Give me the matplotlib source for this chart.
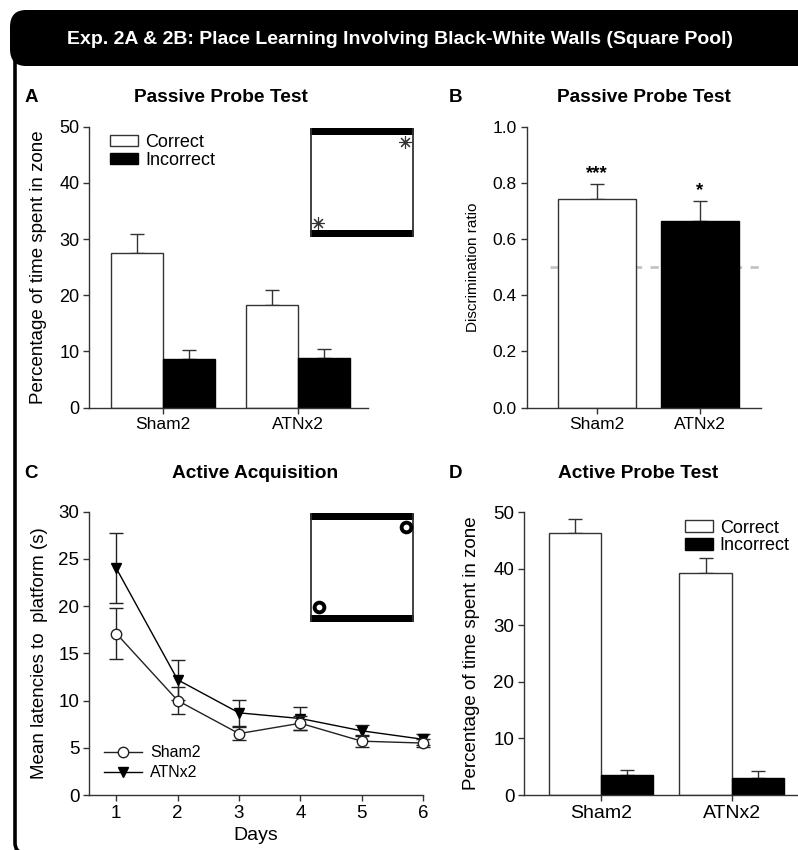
import numpy as np
import matplotlib
matplotlib.use('Agg')
import matplotlib.pyplot as plt
from matplotlib.patches import FancyBboxPatch, Rectangle, Patch
from matplotlib.lines import Line2D

plt.rcParams['font.family'] = ['Liberation Sans', 'DejaVu Sans']

# ---- data ----
groups = ['Sham2', 'ATNx2']
# A: passive probe, % time in zone
a_correct = [27.5, 18.3]
a_correct_err = [3.4, 2.7]
a_incorrect = [8.7, 8.9]
a_incorrect_err = [1.6, 1.6]
# B: discrimination ratio
b_ratio = [0.743, 0.665]
b_err = [0.052, 0.070]
b_sig = ['***', '*']
# C: active acquisition latencies
days = [1, 2, 3, 4, 5, 6]
sham_lat = [17.1, 10.0, 6.5, 7.6, 5.7, 5.5]
sham_err = [2.65, 1.4, 0.65, 0.75, 0.65, 0.45]
atn_lat = [24.0, 12.2, 8.7, 8.1, 6.8, 5.9]
atn_err = [3.7, 2.1, 1.35, 1.2, 0.6, 0.6]
# D: active probe, % time in zone
d_correct = [46.3, 39.2]
d_correct_err = [2.5, 2.8]
d_incorrect = [3.5, 3.0]
d_incorrect_err = [1.0, 1.3]

W, H = 798, 850
fig = plt.figure(figsize=(W / 100, H / 100), dpi=100)

def ax_px(l, t, r, b):
    return fig.add_axes([l / W, 1 - b / H, (r - l) / W, (b - t) / H])

def fx(x):
    return x / W

def fy(y):
    return 1 - y / H

# frame and header
frame = FancyBboxPatch((fx(15), fy(853)), fx(900), (853 - 40) / H,
                       boxstyle='round,pad=0,rounding_size=0.012',
                       transform=fig.transFigure, fc='none', ec='black', lw=2.6)
fig.patches.append(frame)
header = FancyBboxPatch((fx(10), fy(66)), fx(900), (66 - 10) / H,
                        boxstyle='round,pad=0,rounding_size=0.02',
                        transform=fig.transFigure, fc='black', ec='black', lw=0)
fig.patches.append(header)
fig.text(fx(400), fy(40), 'Exp. 2A & 2B: Place Learning Involving Black-White Walls (Square Pool)',
         color='white', fontsize=14, fontweight='bold', ha='center', va='center',
         family=['Liberation Sans Narrow', 'Liberation Sans'])

def style(ax, fs):
    for s in ['top', 'right']:
        ax.spines[s].set_visible(False)
    for s in ['left', 'bottom']:
        ax.spines[s].set_color('#333333')
        ax.spines[s].set_linewidth(1)
    ax.tick_params(direction='out', length=4, width=1, color='#333333', labelsize=fs, pad=3)

ekw = dict(ecolor='#333333', elinewidth=1, capsize=5, capthick=1)

def grouped(ax, corr, corr_err, inc, inc_err, w):
    x = np.arange(len(groups))
    ax.bar(x - w / 2, corr, w, color='white', edgecolor='#333333', lw=1, zorder=2)
    ax.bar(x + w / 2, inc, w, color='black', edgecolor='black', lw=1, zorder=2)
    ax.errorbar(x - w / 2, corr, yerr=[np.zeros(2), corr_err], fmt='none', zorder=1, **ekw)
    ax.errorbar(x + w / 2, inc, yerr=[np.zeros(2), inc_err], fmt='none', zorder=1, **ekw)
    ax.set_xticks(x)

def box_legend(ax, loc, anchor, fs):
    ax.legend(handles=[Patch(fc='white', ec='#333333', lw=1, label='Correct'),
                       Patch(fc='black', ec='black', label='Incorrect')],
              loc=loc, bbox_to_anchor=anchor, frameon=False, fontsize=fs,
              handlelength=1.55, handleheight=0.6, handletextpad=0.4, labelspacing=0.05,
              borderaxespad=0)

def inset_box(l, t, r, b):
    ins = ax_px(l, t, r, b)
    ins.set_xlim(0, 1); ins.set_ylim(0, 1); ins.axis('off')
    ins.add_patch(Rectangle((0.0, 0.0), 1.0, 0.065, fc='black', ec='none'))
    ins.add_patch(Rectangle((0.0, 0.935), 1.0, 0.065, fc='black', ec='none'))
    ins.plot([0.006, 0.006], [0, 1], color='#333333', lw=1.3)
    ins.plot([0.994, 0.994], [0, 1], color='#333333', lw=1.3)
    return ins

# ---- A ----
axA = ax_px(89, 126.7, 368, 407.7)
grouped(axA, a_correct, a_correct_err, a_incorrect, a_incorrect_err, 0.383)
axA.set_xlim(-0.548, 1.52)
axA.set_ylim(0, 50)
axA.set_yticks([0, 10, 20, 30, 40, 50])
style(axA, 13)
axA.set_xticklabels(groups, fontsize=12.5)
axA.set_ylabel('Percentage of time spent in zone', fontsize=13.5)
axA.yaxis.set_label_coords(-0.15, 0.5)
box_legend(axA, 'upper left', (0.05, 1.0), 13)
fig.text(fx(31), fy(97), 'A', fontsize=13.5, fontweight='bold', ha='center', va='center')
fig.text(fx(221), fy(97), 'Passive Probe Test', fontsize=13.8, fontweight='bold', ha='center', va='center')

insA = inset_box(310, 128, 414, 237)
insA.plot([0.08, 0.915], [0.13, 0.87], ls='none', marker=(8, 2, 0), ms=9, mew=0.8, color='#333333')

# ---- B ----
axB = ax_px(526.7, 126.7, 761, 407.7)
xb = np.arange(len(groups))
axB.axhline(0.5, xmin=0.1, xmax=1, color='#c4c4c4', lw=2, ls=(0, (3, 3)), zorder=0)
axB.bar(xb, b_ratio, 0.758, color=['white', 'black'], edgecolor=['#333333', 'black'], lw=1, zorder=2)
axB.errorbar(xb, b_ratio, yerr=[np.zeros(2), b_err], fmt='none', zorder=1, **ekw)
for xi, v, e, s in zip(xb, b_ratio, b_err, b_sig):
    axB.text(xi, v + e + 0.008, s, ha='center', va='bottom', fontsize=13.5, fontweight='bold')
axB.set_xlim(-0.678, 1.59)
axB.set_ylim(0, 1)
axB.set_yticks([0, 0.2, 0.4, 0.6, 0.8, 1.0])
axB.set_yticklabels(['0.0', '0.2', '0.4', '0.6', '0.8', '1.0'])
axB.set_xticks(xb)
style(axB, 12.5)
axB.set_xticklabels(groups, fontsize=12.5)
axB.set_ylabel('Discrimination ratio', fontsize=11)
axB.yaxis.set_label_coords(-0.2, 0.5)
fig.text(fx(456), fy(97), 'B', fontsize=13.5, fontweight='bold', ha='center', va='center')
fig.text(fx(644), fy(97), 'Passive Probe Test', fontsize=13.8, fontweight='bold', ha='center', va='center')

# ---- C ----
axC = ax_px(89, 511.7, 423, 795)
axC.errorbar(days, atn_lat, yerr=atn_err, color='black', lw=1, marker='v', ms=7.5,
             mfc='black', mec='black', ecolor='#222222', elinewidth=1, capsize=5, capthick=1,
             zorder=3, clip_on=False)
axC.errorbar(days, sham_lat, yerr=sham_err, color='#222222', lw=1, marker='o', ms=7.5,
             mfc='white', mec='#222222', ecolor='#222222', elinewidth=1, capsize=5, capthick=1,
             zorder=4, clip_on=False)
axC.set_xlim(0.555, 6)
axC.set_ylim(0, 30)
axC.set_xticks(days)
axC.set_yticks([0, 5, 10, 15, 20, 25, 30])
style(axC, 13.5)
axC.set_xlabel('Days', fontsize=14, labelpad=4)
axC.set_ylabel('Mean latencies to  platform (s)', fontsize=13.5)
axC.yaxis.set_label_coords(-0.123, 0.5)
legC = [Line2D([], [], color='#222222', lw=1, marker='o', ms=7.5, mfc='white', label='Sham2'),
        Line2D([], [], color='black', lw=1, marker='v', ms=7.5, mfc='black', label='ATNx2')]
axC.legend(handles=legC, loc='lower left', bbox_to_anchor=(0.025, 0.03), frameon=False,
           fontsize=11.5, handlelength=2.4, handletextpad=0.5, labelspacing=0.3, borderaxespad=0)
fig.text(fx(31), fy(473), 'C', fontsize=13.5, fontweight='bold', ha='center', va='center')
fig.text(fx(255), fy(473), 'Active Acquisition', fontsize=13.8, fontweight='bold', ha='center', va='center')

insC = inset_box(310, 513, 414, 622)
insC.plot([0.085, 0.925], [0.135, 0.875], ls='none', marker='o', ms=7, mew=2.8, mfc='white', mec='black')

# ---- D ----
axD = ax_px(524, 512.3, 797, 795)
grouped(axD, d_correct, d_correct_err, d_incorrect, d_incorrect_err, 0.40)
axD.set_xlim(-0.589, 1.5)
axD.set_ylim(0, 50)
axD.set_yticks([0, 10, 20, 30, 40, 50])
style(axD, 13.5)
axD.set_xticklabels(groups, fontsize=14)
axD.set_ylabel('Percentage of time spent in zone', fontsize=13.5)
axD.yaxis.set_label_coords(-0.161, 0.5)
box_legend(axD, 'upper right', (1.0, 1.0), 13)
fig.text(fx(456), fy(473), 'D', fontsize=13.5, fontweight='bold', ha='center', va='center')
fig.text(fx(638), fy(473), 'Active Probe Test', fontsize=13.8, fontweight='bold', ha='center', va='center')

fig.savefig('out.png', dpi=100)
